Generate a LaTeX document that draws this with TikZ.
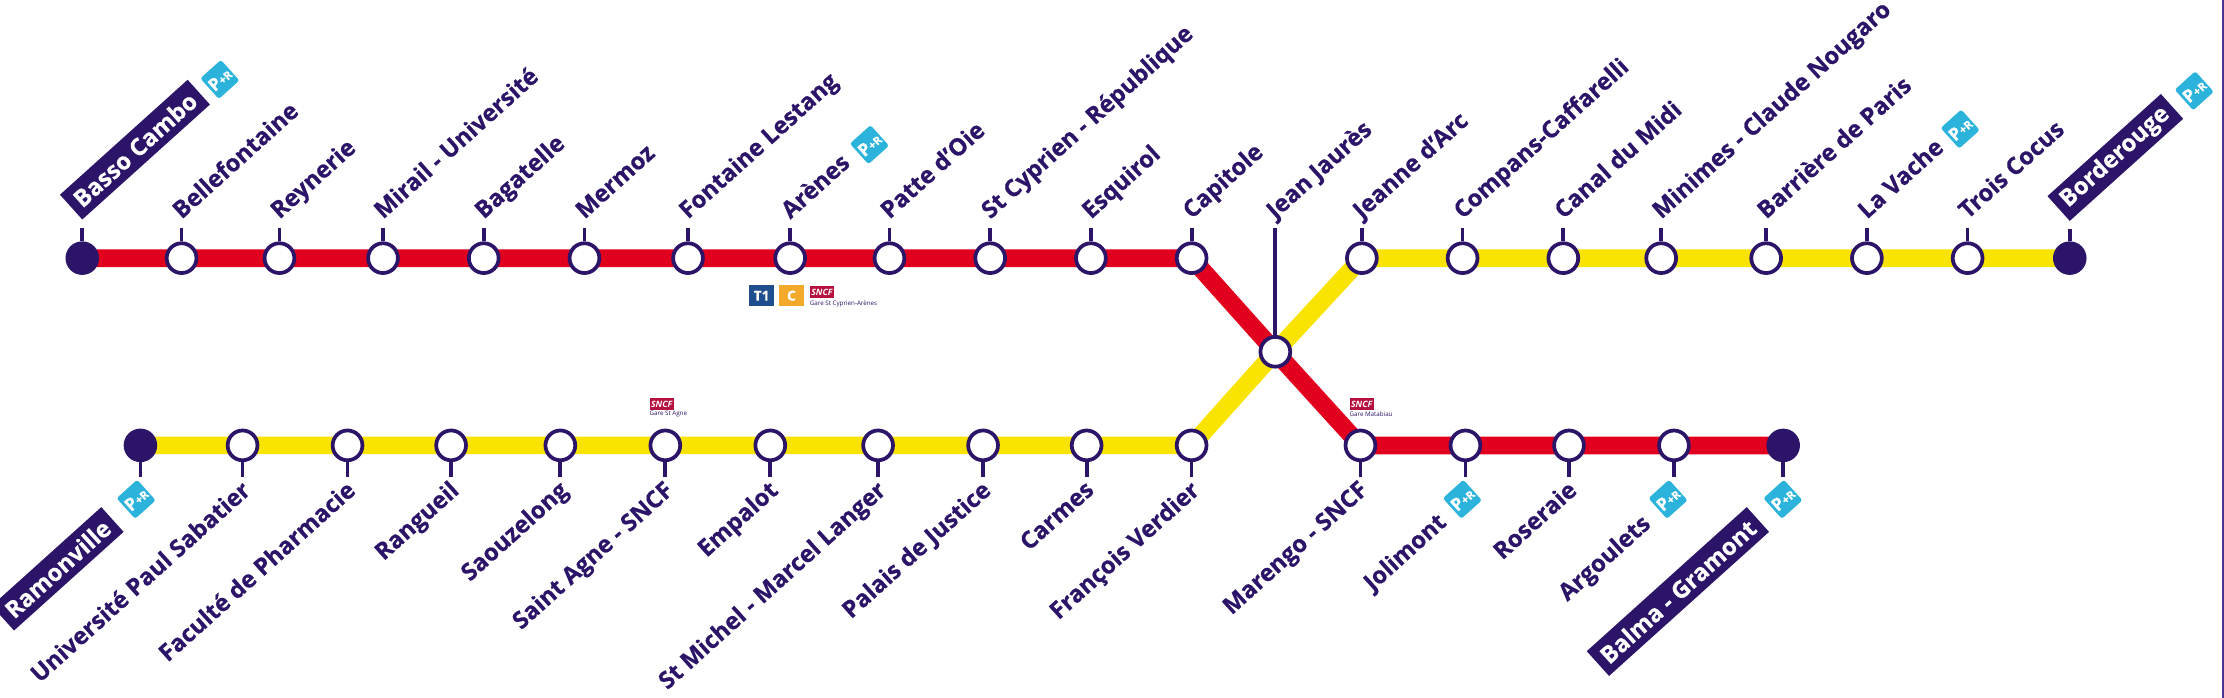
\documentclass[tikz,border=0pt]{standalone}
\usepackage{fontspec}
\setmainfont[BoldFeatures={FakeBold=0.5}]{Open Sans}
\usepackage{tikz}
\usetikzlibrary{positioning,backgrounds}
\definecolor{navy}{HTML}{2C1568}
\definecolor{linered}{HTML}{E2001F}
\definecolor{lineyellow}{HTML}{F9E300}
\definecolor{prcyan}{HTML}{2BB3DC}
\definecolor{tramblue}{HTML}{1F4E90}
\definecolor{lineorange}{HTML}{F5A92B}
\definecolor{sncfred}{HTML}{B5123F}
\definecolor{edgeline}{HTML}{4A3590}

\begin{document}
\begin{tikzpicture}[x=0.04cm, y=-0.04cm, on grid,
    % styles
    stopnode/.style={circle, draw=navy, fill=white, line width=3pt, minimum size=0.84cm, inner sep=0pt},
    endnode/.style={circle, draw=navy, fill=navy, line width=3pt, minimum size=0.84cm, inner sep=0pt},
    toplabel/.style={rotate=42, anchor=base west, inner sep=0pt, text=navy, font=\fontsize{19}{19}\selectfont\bfseries},
    botlabel/.style={rotate=42, anchor=north east, inner sep=0pt, text=navy, font=\fontsize{19}{19}\selectfont\bfseries},
    endlabel/.style={rotate=42, fill=navy, text=white, inner xsep=0.21cm, minimum height=0.94cm, font=\fontsize{19}{19}\selectfont\bfseries},
    prnode/.style={rotate=42, fill=prcyan, text=white, rounded corners=2pt, minimum size=0.78cm, inner sep=0pt, font=\fontsize{14}{14}\selectfont\bfseries},
    tick/.style={navy, line width=3pt},
    redline/.style={linered, line width=0.5cm, line join=round},
    yellowline/.style={lineyellow, line width=0.5cm, line join=round},
    logobox/.style={minimum width=0.72cm, minimum height=0.6cm, inner sep=0pt, text=white, font=\fontsize{11}{11}\selectfont\bfseries},
    sncfnode/.style={fill=sncfred, text=white, minimum width=0.68cm, minimum height=0.34cm, inner sep=0pt, font=\fontsize{7}{7}\selectfont\bfseries\itshape},
    garenode/.style={inner sep=0pt, text=navy, font=\fontsize{5}{5}\selectfont},
    ]
    \useasboundingbox (0,0) rectangle (1568,492);
    \draw[edgeline, line width=1.6pt] (1567.4,0) -- (1567.4,492);

    % red line, north row
    \node[endnode]  (a1) at (58,182) {};
    \node[stopnode] (a2)  [right=2.8cm of a1] {};
    \node[stopnode] (a3)  [right=2.76cm of a2] {};
    \node[stopnode] (a4)  [right=2.92cm of a3] {};
    \node[stopnode] (a5)  [right=2.84cm of a4] {};
    \node[stopnode] (a6)  [right=2.84cm of a5] {};
    \node[stopnode] (a7)  [right=2.92cm of a6] {};
    \node[stopnode] (a8)  [right=2.88cm of a7] {};
    \node[stopnode] (a9)  [right=2.8cm of a8] {};
    \node[stopnode] (a10) [right=2.84cm of a9] {};
    \node[stopnode] (a11) [right=2.84cm of a10] {};
    \node[stopnode] (a12) [right=2.84cm of a11] {};
    % crossing
    \node[stopnode] (x1)  [below right=2.64cm and 2.36cm of a12] {};
    % yellow line, north row
    \node[stopnode] (e1)  [above right=2.64cm and 2.44cm of x1] {};
    \node[stopnode] (e2)  [right=2.84cm of e1] {};
    \node[stopnode] (e3)  [right=2.84cm of e2] {};
    \node[stopnode] (e4)  [right=2.76cm of e3] {};
    \node[stopnode] (e5)  [right=2.96cm of e4] {};
    \node[stopnode] (e6)  [right=2.84cm of e5] {};
    \node[stopnode] (e7)  [right=2.84cm of e6] {};
    \node[endnode]  (e8)  [right=2.88cm of e7] {};
    % yellow line, south row
    \node[endnode]  (d1) at (99,314) {};
    \node[stopnode] (d2)  [right=2.88cm of d1] {};
    \node[stopnode] (d3)  [right=2.96cm of d2] {};
    \node[stopnode] (d4)  [right=2.92cm of d3] {};
    \node[stopnode] (d5)  [right=3.08cm of d4] {};
    \node[stopnode] (d6)  [right=2.96cm of d5] {};
    \node[stopnode] (d7)  [right=2.96cm of d6] {};
    \node[stopnode] (d8)  [right=3.04cm of d7] {};
    \node[stopnode] (d9)  [right=2.96cm of d8] {};
    \node[stopnode] (d10) [right=2.92cm of d9] {};
    \node[stopnode] (d11) [right=2.96cm of d10] {};
    % red line, south row
    \node[stopnode] (c1)  [below right=2.64cm and 2.4cm of x1] {};
    \node[stopnode] (c2)  [right=2.96cm of c1] {};
    \node[stopnode] (c3)  [right=2.92cm of c2] {};
    \node[stopnode] (c4)  [right=2.96cm of c3] {};
    \node[endnode]  (c5)  [right=3.08cm of c4] {};

    % Lines
    \begin{scope}[on background layer]
    \draw[redline] (a1.center) -- (a2.center) -- (a3.center) -- (a4.center) -- (a5.center) -- (a6.center) -- (a7.center) -- (a8.center) -- (a9.center) -- (a10.center) -- (a11.center) -- (a12.center) -- (x1.center) -- (c1.center) -- (c2.center) -- (c3.center) -- (c4.center) -- (c5.center);
    \draw[yellowline] (d1.center) -- (d2.center) -- (d3.center) -- (d4.center) -- (d5.center) -- (d6.center) -- (d7.center) -- (d8.center) -- (d9.center) -- (d10.center) -- (d11.center) -- (x1.center) -- (e1.center) -- (e2.center) -- (e3.center) -- (e4.center) -- (e5.center) -- (e6.center) -- (e7.center) -- (e8.center);
    \end{scope}

    % names, north row
    \node[endlabel, above=1.08cm of a1, anchor=south west] (la1) {Basso Cambo};
    \node[above=1.08cm of a2, toplabel]  (la2)  {Bellefontaine};
    \node[above=1.08cm of a3, toplabel]  (la3)  {Reynerie};
    \node[above=1.08cm of a4, toplabel]  (la4)  {Mirail - Université};
    \node[above=1.08cm of a5, toplabel]  (la5)  {Bagatelle};
    \node[above=1.08cm of a6, toplabel]  (la6)  {Mermoz};
    \node[above=1.08cm of a7, toplabel]  (la7)  {Fontaine Lestang};
    \node[above=1.08cm of a8, toplabel]  (la8)  {Arènes};
    \node[above=1.08cm of a9, toplabel]  (la9)  {Patte d'Oie};
    \node[above=1.08cm of a10, toplabel] (la10) {St Cyprien - République};
    \node[above=1.08cm of a11, toplabel] (la11) {Esquirol};
    \node[above=1.08cm of a12, toplabel] (la12) {Capitole};
    \node[above=3.72cm of x1, toplabel]  (lx1)  {Jean Jaurès};
    \node[above=1.08cm of e1, toplabel]  (le1)  {Jeanne d'Arc};
    \node[above=1.08cm of e2, toplabel]  (le2)  {Compans-Caffarelli};
    \node[above=1.08cm of e3, toplabel]  (le3)  {Canal du Midi};
    \node[above=1.08cm of e4, toplabel]  (le4)  {Minimes - Claude Nougaro};
    \node[above=1.08cm of e5, toplabel]  (le5)  {Barrière de Paris};
    \node[above=1.08cm of e6, toplabel]  (le6)  {La Vache};
    \node[above=1.08cm of e7, toplabel]  (le7)  {Trois Cocus};
    \node[endlabel, above=1.04cm of e8, anchor=south west] (le8) {Borderouge};

    % names, south row
    \node[endlabel, anchor=south east] (ld1) at (87.4,375) {Ramonville};
    \node[below left=0.94cm and 0.08cm of d2, botlabel]  (ld2)  {Université Paul Sabatier};
    \node[below left=0.94cm and 0.08cm of d3, botlabel]  (ld3)  {Faculté de Pharmacie};
    \node[below left=0.94cm and 0.08cm of d4, botlabel]  (ld4)  {Rangueil};
    \node[below left=0.94cm and 0.08cm of d5, botlabel]  (ld5)  {Saouzelong};
    \node[below left=0.94cm and 0.08cm of d6, botlabel]  (ld6)  {Saint Agne - SNCF};
    \node[below left=0.94cm and 0.08cm of d7, botlabel]  (ld7)  {Empalot};
    \node[below left=0.94cm and 0.08cm of d8, botlabel]  (ld8)  {St Michel - Marcel Langer};
    \node[below left=0.94cm and 0.08cm of d9, botlabel]  (ld9)  {Palais de Justice};
    \node[below left=0.94cm and 0.08cm of d10, botlabel] (ld10) {Carmes};
    \node[below left=0.94cm and 0.08cm of d11, botlabel] (ld11) {François Verdier};
    \node[below left=0.94cm and 0.08cm of c1, botlabel]  (lc1)  {Marengo - SNCF};
    \node[below left=1.84cm and 0.84cm of c2, botlabel]  (lc2)  {Jolimont};
    \node[below left=0.94cm and 0.08cm of c3, botlabel]  (lc3)  {Roseraie};
    \node[below left=1.88cm and 0.96cm of c4, botlabel]  (lc4)  {Argoulets};
    \node[endlabel, anchor=south east] (lc5) at (1247.5,375) {Balma - Gramont};

    % ticks
    \draw[tick, shorten >=0.225cm] (a1.north) -- (la1.south west);
    \draw[tick, shorten >=0.225cm] (a2.north) -- (a2 |- la2.base west);
    \draw[tick, shorten >=0.225cm] (a3.north) -- (a3 |- la3.base west);
    \draw[tick, shorten >=0.225cm] (a4.north) -- (a4 |- la4.base west);
    \draw[tick, shorten >=0.225cm] (a5.north) -- (a5 |- la5.base west);
    \draw[tick, shorten >=0.225cm] (a6.north) -- (a6 |- la6.base west);
    \draw[tick, shorten >=0.225cm] (a7.north) -- (a7 |- la7.base west);
    \draw[tick, shorten >=0.225cm] (a8.north) -- (a8 |- la8.base west);
    \draw[tick, shorten >=0.225cm] (a9.north) -- (a9 |- la9.base west);
    \draw[tick, shorten >=0.225cm] (a10.north) -- (a10 |- la10.base west);
    \draw[tick, shorten >=0.225cm] (a11.north) -- (a11 |- la11.base west);
    \draw[tick, shorten >=0.225cm] (a12.north) -- (a12 |- la12.base west);
    \draw[tick, shorten >=0.225cm] (x1.north) -- (x1 |- lx1.base west);
    \draw[tick, shorten >=0.225cm] (e1.north) -- (e1 |- le1.base west);
    \draw[tick, shorten >=0.225cm] (e2.north) -- (e2 |- le2.base west);
    \draw[tick, shorten >=0.225cm] (e3.north) -- (e3 |- le3.base west);
    \draw[tick, shorten >=0.225cm] (e4.north) -- (e4 |- le4.base west);
    \draw[tick, shorten >=0.225cm] (e5.north) -- (e5 |- le5.base west);
    \draw[tick, shorten >=0.225cm] (e6.north) -- (e6 |- le6.base west);
    \draw[tick, shorten >=0.225cm] (e7.north) -- (e7 |- le7.base west);
    \draw[tick, shorten >=0.225cm] (e8.north) -- (le8.south west);
    \draw[tick, shorten >=0.84cm] (d1.south) -- (d1 |- ld1.north east);
    \draw[tick, shorten >=0.06cm] (d2.south) -- (d2 |- ld2.north east);
    \draw[tick, shorten >=0.06cm] (d3.south) -- (d3 |- ld3.north east);
    \draw[tick, shorten >=0.06cm] (d4.south) -- (d4 |- ld4.north east);
    \draw[tick, shorten >=0.06cm] (d5.south) -- (d5 |- ld5.north east);
    \draw[tick, shorten >=0.06cm] (d6.south) -- (d6 |- ld6.north east);
    \draw[tick, shorten >=0.06cm] (d7.south) -- (d7 |- ld7.north east);
    \draw[tick, shorten >=0.06cm] (d8.south) -- (d8 |- ld8.north east);
    \draw[tick, shorten >=0.06cm] (d9.south) -- (d9 |- ld9.north east);
    \draw[tick, shorten >=0.06cm] (d10.south) -- (d10 |- ld10.north east);
    \draw[tick, shorten >=0.06cm] (d11.south) -- (d11 |- ld11.north east);
    \draw[tick, shorten >=0.06cm] (c1.south) -- (c1 |- lc1.north east);
    \draw[tick, shorten >=0.96cm] (c2.south) -- (c2 |- lc2.north east);
    \draw[tick, shorten >=0.06cm] (c3.south) -- (c3 |- lc3.north east);
    \draw[tick, shorten >=1cm] (c4.south) -- (c4 |- lc4.north east);
    \draw[tick, shorten >=0.84cm] (c5.south) -- (c5 |- lc5.north east);

    % park and ride signs
    \node[prnode] (p1) at (155,56)   {P{\fontsize{9}{9}\selectfont+R}};
    \node[prnode] (p2) at (613,102)  {P{\fontsize{9}{9}\selectfont+R}};
    \node[prnode] (p3) at (1382,91)  {P{\fontsize{9}{9}\selectfont+R}};
    \node[prnode] (p4) at (1547,64)  {P{\fontsize{9}{9}\selectfont+R}};
    \node[prnode] (p5) at (96,352)   {P{\fontsize{9}{9}\selectfont+R}};
    \node[prnode] (p6) at (1031,352) {P{\fontsize{9}{9}\selectfont+R}};
    \node[prnode] (p7) at (1176,352) {P{\fontsize{9}{9}\selectfont+R}};
    \node[prnode] (p8) at (1257,352) {P{\fontsize{9}{9}\selectfont+R}};

    % rail and tram signs
    \node[logobox, fill=tramblue]   (t1) at (537,208.5) {T1};
    \node[logobox, fill=lineorange] (t2) [right=0.84cm of t1] {C};
    \node[sncfnode] (s1) at (579.5,206) {SNCF};
    \node[garenode, below=0.32cm of s1.west, anchor=west] (g1) {Gare St Cyprien-Arènes};
    \node[sncfnode] (s2) at (466.5,285) {SNCF};
    \node[garenode, below=0.28cm of s2.west, anchor=west] (g2) {Gare St Agne};
    \node[sncfnode] (s3) at (960,285) {SNCF};
    \node[garenode, below=0.28cm of s3.west, anchor=west] (g3) {Gare Matabiau};
\end{tikzpicture}
\end{document}
